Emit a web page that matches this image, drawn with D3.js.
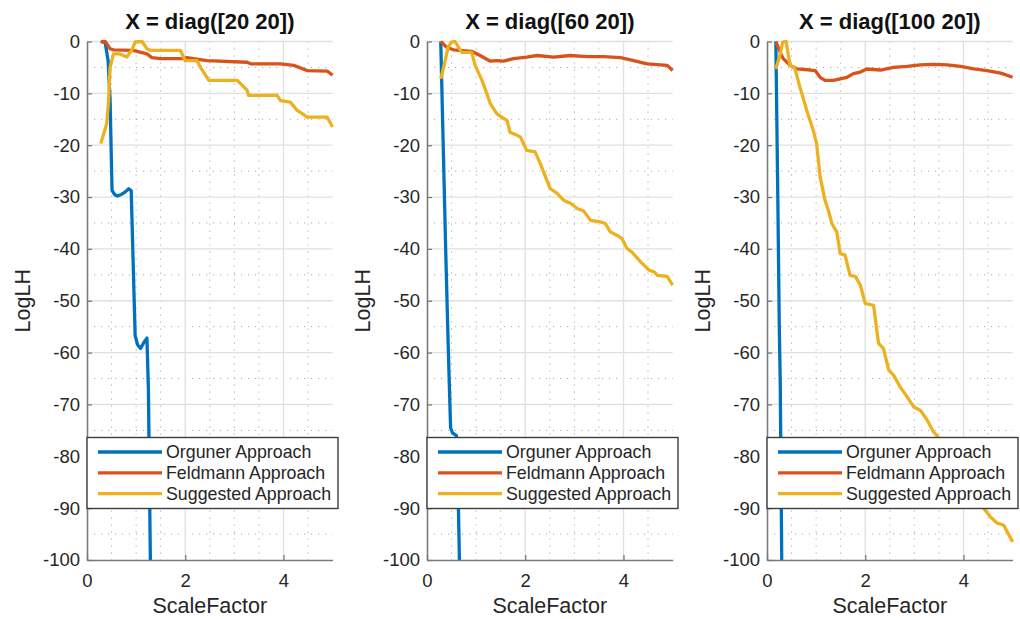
<!DOCTYPE html>
<html>
<head>
<meta charset="utf-8">
<script src="https://cdn.jsdelivr.net/npm/d3@7"></script>
<style>
  html, body { margin: 0; padding: 0; background: #fff; }
  svg { display: block; font-family: "Liberation Sans", Arial, Helvetica, sans-serif; }
</style>
</head>
<body>
<svg id="chart" width="1020" height="619"></svg>
<script>
// ---- data -------------------------------------------------------------
const panelTitles = ["X = diag([20 20])", "X = diag([60 20])", "X = diag([100 20])"];
const seriesNames = ["Orguner Approach", "Feldmann Approach", "Suggested Approach"];
const seriesColors = ["#0072BD", "#D95319", "#EDB120"];
const scaleFactorTicks = [0, 2, 4];
const logLHTicks = [0, -10, -20, -30, -40, -50, -60, -70, -80, -90, -100];

// diag([20 20])
const orguner1X = [0.28, 0.37, 0.43, 0.47, 0.51, 0.56, 0.62, 0.70, 0.78, 0.85, 0.90, 0.98, 1.03, 1.09, 1.16, 1.22, 1.25, 1.29];
const orguner1Y = [0, -0.2, -3.7, -11.3, -28.7, -29.5, -29.8, -29.5, -29.0, -28.4, -28.8, -56.7, -58.5, -59.2, -58.0, -57.2, -67, -100];
const feldmann1X = [0.28, 0.37, 0.47, 0.54, 0.94, 1.22, 1.32, 1.49, 1.97, 2.03, 2.44, 3.26, 3.33, 3.94, 4.21, 4.48, 4.89, 5.0];
const feldmann1Y = [0, 0, -1.4, -1.6, -1.7, -2.4, -3.1, -3.3, -3.3, -3.1, -3.7, -4.0, -4.3, -4.3, -4.6, -5.6, -5.7, -6.5];
const suggested1X = [0.28, 0.40, 0.44, 0.47, 0.54, 0.67, 0.81, 0.91, 0.98, 1.12, 1.22, 1.29, 1.90, 2.0, 2.24, 2.31, 2.48, 3.06, 3.26, 3.29, 3.87, 3.94, 4.14, 4.28, 4.38, 4.48, 4.89, 5.0];
const suggested1Y = [-19.7, -15.9, -11.4, -5.0, -2.4, -2.4, -3.0, -1.7, -0.1, 0, -1.4, -1.7, -1.7, -3.7, -3.7, -5.0, -7.5, -7.5, -9.4, -10.4, -10.4, -11.4, -11.7, -13.3, -13.9, -14.6, -14.6, -16.5];

// diag([60 20])
const orguner2X = [0.28, 0.33, 0.38, 0.43, 0.48, 0.52, 0.60, 0.63, 0.66];
const orguner2Y = [0, -20, -40, -58, -74.5, -75.5, -76, -85, -100];
const feldmann2X = [0.28, 0.40, 0.54, 0.67, 0.91, 1.08, 1.29, 1.42, 1.56, 1.76, 2.03, 2.24, 2.58, 2.92, 3.26, 3.60, 3.94, 4.21, 4.48, 4.89, 5.0];
const feldmann2Y = [0, -1.1, -1.6, -1.7, -1.9, -2.7, -3.8, -3.7, -3.8, -3.3, -3.0, -2.7, -3.0, -2.7, -2.9, -2.9, -3.1, -3.7, -4.3, -4.6, -5.6];
const suggested2X = [0.28, 0.37, 0.43, 0.50, 0.57, 0.64, 0.71, 0.91, 0.98, 1.12, 1.22, 1.29, 1.42, 1.52, 1.63, 1.69, 1.83, 1.90, 2.03, 2.20, 2.31, 2.44, 2.51, 2.65, 2.78, 2.92, 3.06, 3.19, 3.33, 3.53, 3.63, 3.73, 3.87, 3.97, 4.07, 4.17, 4.35, 4.52, 4.62, 4.69, 4.89, 5.0];
const suggested2Y = [-7.2, -3.7, -1.1, -0.1, 0, -1.1, -2.1, -2.1, -4.6, -7.5, -10.1, -12.0, -13.9, -14.6, -15.2, -17.5, -18.1, -18.4, -21.0, -21.3, -23.6, -26.8, -28.4, -29.3, -30.6, -31.2, -32.2, -32.7, -34.5, -34.8, -35.1, -36.7, -37.4, -38.0, -39.9, -40.6, -42.5, -44.1, -44.4, -45.1, -45.3, -47.0];

// diag([100 20])
const orguner3X = [0.18, 0.22, 0.25, 0.27, 0.30];
const orguner3Y = [0, -30, -55, -66, -100];
const feldmann3X = [0.18, 0.27, 0.33, 0.47, 0.61, 0.88, 0.98, 1.08, 1.18, 1.35, 1.49, 1.63, 1.76, 1.90, 2.03, 2.31, 2.58, 2.85, 3.12, 3.39, 3.67, 3.94, 4.21, 4.48, 4.76, 5.0];
const feldmann3Y = [0, -2.1, -3.3, -4.6, -5.3, -5.5, -5.6, -6.9, -7.5, -7.5, -7.2, -6.9, -6.2, -5.9, -5.3, -5.5, -5.0, -4.8, -4.5, -4.4, -4.5, -4.8, -5.3, -5.6, -6.1, -6.9];
const suggested3X = [0.18, 0.27, 0.32, 0.39, 0.43, 0.47, 0.54, 0.57, 0.67, 0.81, 0.94, 1.01, 1.08, 1.18, 1.25, 1.32, 1.42, 1.49, 1.59, 1.69, 1.80, 1.90, 2.0, 2.17, 2.27, 2.37, 2.48, 2.58, 2.71, 2.85, 2.99, 3.12, 3.26, 3.39, 3.46, 3.70, 3.95, 4.20, 4.41, 4.55, 4.69, 4.82, 5.0];
const suggested3Y = [-5.3, -2.4, -0.1, 0, -2.4, -4.6, -5.0, -5.3, -8.8, -13.3, -17.1, -19.7, -26.0, -30.6, -32.6, -35.1, -36.7, -40.9, -41.2, -45.1, -45.3, -47.0, -50.5, -50.9, -58.2, -59.2, -63.4, -64.4, -66.6, -68.5, -70.5, -71.1, -73.0, -75.3, -76.0, -79.5, -83.0, -87.0, -90.0, -91.7, -92.9, -93.3, -96.5];

// ---- layout -----------------------------------------------------------
const panelLeft = [87, 427, 767];
const plotW = 245.6, plotTop = 41.5, plotBottom = 560;
const axisColor = "#7a7a7a", textColor = "#262626";
const lineWidth = 3.3;

const panelSeries = [
  [[orguner1X, orguner1Y], [feldmann1X, feldmann1Y], [suggested1X, suggested1Y]],
  [[orguner2X, orguner2Y], [feldmann2X, feldmann2Y], [suggested2X, suggested2Y]],
  [[orguner3X, orguner3Y], [feldmann3X, feldmann3Y], [suggested3X, suggested3Y]]
];

const svg = d3.select("#chart");

panelSeries.forEach((seriesList, p) => {
  const left = panelLeft[p];
  const x = d3.scaleLinear().domain([0, 5]).range([left, left + plotW]);
  const y = d3.scaleLinear().domain([-100, 0]).range([plotBottom, plotTop]);
  const g = svg.append("g");

  // minor grid (dotted)
  const minorX = d3.range(0.5, 5.01, 0.5).filter(v => v % 2 !== 0 && v < 5);
  const minorY = d3.range(-95, 0, 10);
  g.append("g").selectAll("line").data(minorX).join("line")
    .attr("x1", d => x(d)).attr("x2", d => x(d))
    .attr("y1", plotTop).attr("y2", plotBottom)
    .attr("stroke", "#a8a8a8").attr("stroke-width", 1).attr("stroke-dasharray", "1.2,5.8");
  g.append("g").selectAll("line").data(minorY).join("line")
    .attr("x1", x(0)).attr("x2", x(5))
    .attr("y1", d => y(d)).attr("y2", d => y(d))
    .attr("stroke", "#a8a8a8").attr("stroke-width", 1).attr("stroke-dasharray", "1.2,5.8");

  // major grid (solid, light)
  g.append("g").selectAll("line").data(scaleFactorTicks.filter(v => v > 0)).join("line")
    .attr("x1", d => x(d)).attr("x2", d => x(d))
    .attr("y1", plotTop).attr("y2", plotBottom)
    .attr("stroke", "#e0e0e0").attr("stroke-width", 1.3);
  g.append("g").selectAll("line").data(logLHTicks.filter(v => v > -100)).join("line")
    .attr("x1", x(0)).attr("x2", x(5))
    .attr("y1", d => y(d)).attr("y2", d => y(d))
    .attr("stroke", "#e0e0e0").attr("stroke-width", 1.3);

  // data lines, clipped to the plot box
  const clipId = "clip" + p;
  svg.append("clipPath").attr("id", clipId).append("rect")
    .attr("x", x(0)).attr("y", plotTop - 2).attr("width", plotW + 2).attr("height", plotBottom - plotTop + 2);
  const line = d3.line().x(d => x(d[0])).y(d => y(d[1]));
  const lines = g.append("g").attr("clip-path", `url(#${clipId})`);
  seriesList.forEach(([xs, ys], s) => {
    const pts = xs.map((v, i) => [v, ys[i]]);
    lines.append("path").datum(pts)
      .attr("d", line)
      .attr("fill", "none")
      .attr("stroke", seriesColors[s])
      .attr("stroke-width", lineWidth)
      .attr("stroke-linejoin", "round");
  });

  // axes
  const yAxis = d3.axisLeft(y).tickValues(logLHTicks).tickSizeInner(-5).tickSizeOuter(0).tickPadding(7)
    .tickFormat(d => d === 0 ? "0" : "-" + Math.abs(d));
  const xAxis = d3.axisBottom(x).tickValues(scaleFactorTicks).tickSizeInner(-5).tickSizeOuter(0).tickPadding(14)
    .tickFormat(d3.format("d"));

  const ya = g.append("g").attr("transform", `translate(${x(0)},0)`).call(yAxis);
  const xa = g.append("g").attr("transform", `translate(0,${plotBottom})`).call(xAxis);
  [ya, xa].forEach(a => {
    a.select(".domain").attr("stroke", axisColor).attr("stroke-width", 1.6);
    a.selectAll(".tick line").attr("stroke", axisColor).attr("stroke-width", 1.3);
    a.selectAll(".tick text").attr("fill", textColor).style("font-size", "18.5px")
      .style("font-family", "'Liberation Sans', Arial, Helvetica, sans-serif");
  });

  // title and axis labels
  g.append("text").attr("x", x(2.5)).attr("y", 29).attr("text-anchor", "middle")
    .style("font-size", "22px").style("font-weight", "bold").attr("fill", "#111")
    .text(panelTitles[p]);
  g.append("text").attr("x", x(2.5)).attr("y", 613).attr("text-anchor", "middle")
    .style("font-size", "21.5px").attr("fill", textColor).text("ScaleFactor");
  g.append("text").attr("transform", `translate(${left - 57},${(plotTop + plotBottom) / 2}) rotate(-90)`)
    .attr("text-anchor", "middle")
    .style("font-size", "21.5px").attr("fill", textColor).text("LogLH");

  // legend
  const lg = g.append("g").attr("transform", `translate(${x(0)},437.5)`);
  lg.append("rect").attr("width", 251).attr("height", 71)
    .attr("fill", "#fff").attr("stroke", "#3c3c3c").attr("stroke-width", 1.4);
  seriesNames.forEach((name, s) => {
    const cy = 14.5 + s * 20.8;
    lg.append("line").attr("x1", 11).attr("x2", 75).attr("y1", cy).attr("y2", cy)
      .attr("stroke", seriesColors[s]).attr("stroke-width", lineWidth);
    lg.append("text").attr("x", 79).attr("y", cy).attr("dy", "0.36em")
      .style("font-size", "17.8px").attr("fill", textColor).text(name);
  });
});
</script>
</body>
</html>
